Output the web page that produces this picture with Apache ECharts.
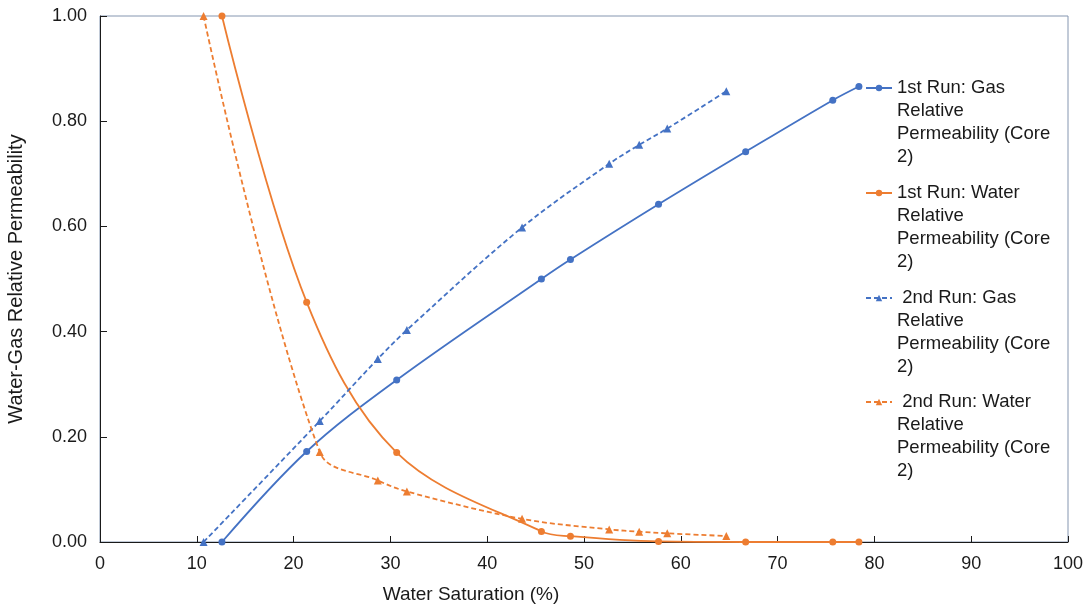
<!DOCTYPE html>
<html>
<head>
<meta charset="utf-8">
<script src="https://cdn.jsdelivr.net/npm/echarts@6/dist/echarts.min.js"></script>
<style>
html,body{margin:0;padding:0;background:#fff;}
#chart{width:1087px;height:609px;}
</style>
</head>
<body>
<div id="chart"></div>
<script>
// ---- data ----
const run1Saturation = [12.6, 21.35, 30.65, 45.6, 48.6, 57.7, 66.7, 75.7, 78.4];
const run1Gas        = [0, 0.172, 0.308, 0.500, 0.537, 0.642, 0.742, 0.840, 0.866];
const run1Water      = [1.0, 0.456, 0.170, 0.020, 0.011, 0.001, 0, 0, 0];
const run2Saturation = [10.7, 22.7, 28.7, 31.7, 43.6, 52.6, 55.7, 58.6, 64.7];
const run2Gas        = [0, 0.230, 0.348, 0.403, 0.598, 0.719, 0.755, 0.786, 0.857];
const run2Water      = [1.0, 0.171, 0.117, 0.096, 0.044, 0.024, 0.0196, 0.0165, 0.0114];

const seriesNames = [
  '1st Run: Gas Relative Permeability (Core 2)',
  '1st Run: Water Relative Permeability (Core 2)',
  ' 2nd Run: Gas Relative Permeability (Core 2)',
  ' 2nd Run: Water Relative Permeability (Core 2)'
];
const legendLabels = [
  '1st Run: Gas\nRelative\nPermeability (Core\n2)',
  '1st Run: Water\nRelative\nPermeability (Core\n2)',
  ' 2nd Run: Gas\nRelative\nPermeability (Core\n2)',
  ' 2nd Run: Water\nRelative\nPermeability (Core\n2)'
];
const xTicks = {min: 0, max: 100, interval: 10};
const yTicks = {min: 0, max: 1, interval: 0.2};
const xTitle = 'Water Saturation (%)';
const yTitle = 'Water-Gas Relative Permeability';

const BLUE = '#4472C4', ORANGE = '#ED7D31';
const FONT = 'Liberation Sans, Arial, sans-serif';
const TXT = '#1a1a1a';
const LH = 23;

function pairs(xs, ys){ return xs.map((x,i)=>[x, ys[i]]); }

const seriesData = [
  pairs(run1Saturation, run1Gas),
  pairs(run1Saturation, run1Water),
  pairs(run2Saturation, run2Gas),
  pairs(run2Saturation, run2Water)
];
const colors = [BLUE, ORANGE, BLUE, ORANGE];
const dashed = [false, false, true, true];

// three blank lines on top so the first text line sits level with the icon
const legendCenters = [88, 193, 298, 402];
const legends = seriesNames.map((n, i) => ({
  orient: 'vertical',
  left: 865,
  top: legendCenters[i] - 3.5 * LH,
  data: [n],
  itemWidth: 26,
  itemHeight: 8,
  padding: 0,
  formatter: () => '\n\n\n' + legendLabels[i],
  textStyle: {
    fontFamily: FONT, fontSize: 18.5, color: TXT,
    lineHeight: LH
  }
}));

const chart = echarts.init(document.getElementById('chart'));
chart.setOption({
  animation: false,
  backgroundColor: '#fff',
  grid: {
    left: 100, right: 19, top: 16, bottom: 67,
    containLabel: false, outerBoundsMode: 'none',
    show: true, borderColor: '#8596B0', borderWidth: 1
  },
  legend: legends,
  xAxis: {
    type: 'value',
    min: xTicks.min, max: xTicks.max, interval: xTicks.interval,
    name: xTitle, nameLocation: 'middle', nameGap: 43,
    nameTextStyle: {fontFamily: FONT, fontSize: 19, color: TXT, padding: [0, 226, 0, 0]},
    axisLine: {show: true, onZero: false, lineStyle: {color: TXT, width: 1}},
    axisTick: {show: true, inside: true, length: 6, lineStyle: {color: TXT}},
    axisLabel: {fontFamily: FONT, fontSize: 18, color: TXT, margin: 13},
    splitLine: {show: false}
  },
  yAxis: {
    type: 'value',
    min: yTicks.min, max: yTicks.max, interval: yTicks.interval,
    name: yTitle, nameLocation: 'middle', nameGap: 74, nameRotate: 90,
    nameTextStyle: {fontFamily: FONT, fontSize: 20, color: TXT},
    axisLine: {show: true, lineStyle: {color: TXT, width: 1}},
    axisTick: {show: true, inside: true, length: 7, lineStyle: {color: TXT}},
    axisLabel: {fontFamily: FONT, fontSize: 18, color: TXT, margin: 13,
      formatter: v => v.toFixed(2)},
    splitLine: {show: false}
  },
  series: seriesNames.map((n, i) => ({
    name: n,
    type: 'line',
    data: seriesData[i],
    smooth: 0.35,
    symbol: dashed[i] ? 'triangle' : 'circle',
    symbolSize: dashed[i] ? 8 : 7,
    itemStyle: {color: colors[i]},
    lineStyle: {color: colors[i], width: 1.8, type: dashed[i] ? [5, 3] : 'solid'},
    z: 3
  }))
});
</script>
</body>
</html>
